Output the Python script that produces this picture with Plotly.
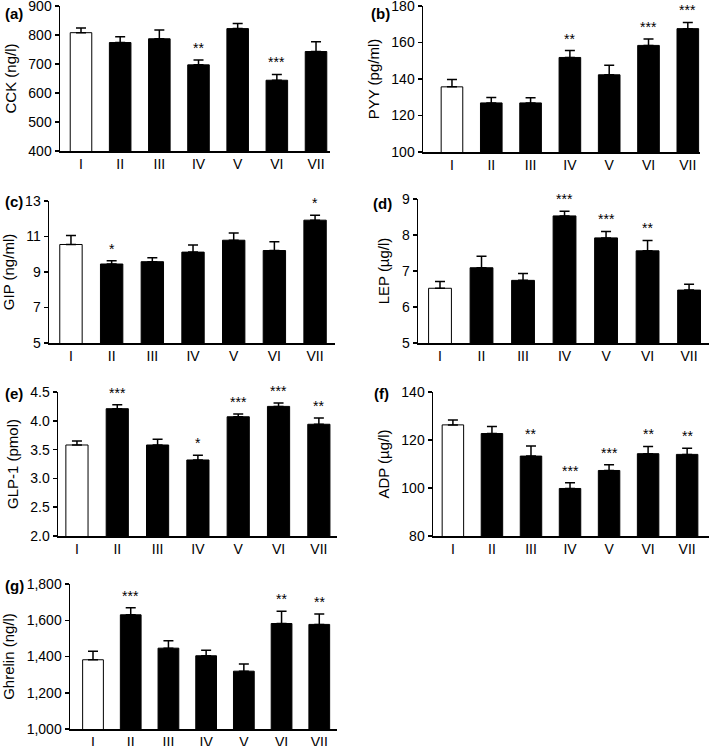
import plotly.graph_objects as go

groups = ["I", "II", "III", "IV", "V", "VI", "VII"]

cck = [808, 774, 787, 697, 822, 644, 743]
cck_err = [16, 20, 30, 17, 18, 20, 34]
cck_sig = ["", "", "", "**", "", "***", ""]

pyy = [135.7, 126.9, 126.9, 151.8, 142.3, 158.4, 167.6]
pyy_err = [4.0, 3.0, 2.8, 3.8, 5.3, 3.5, 3.4]
pyy_sig = ["", "", "", "**", "", "***", "***"]

gip = [10.55, 9.45, 9.58, 10.12, 10.79, 10.21, 11.92]
gip_err = [0.50, 0.19, 0.22, 0.40, 0.41, 0.49, 0.28]
gip_sig = ["", "*", "", "", "", "", "*"]

lep = [6.52, 7.09, 6.74, 8.53, 7.92, 7.56, 6.47]
lep_err = [0.19, 0.32, 0.19, 0.13, 0.18, 0.29, 0.16]
lep_sig = ["", "", "", "***", "***", "**", ""]

glp1 = [3.58, 4.21, 3.58, 3.32, 4.07, 4.25, 3.94]
glp1_err = [0.07, 0.07, 0.10, 0.08, 0.05, 0.06, 0.11]
glp1_sig = ["", "***", "", "*", "***", "***", "**"]

adp = [126.3, 122.7, 113.3, 99.8, 107.3, 114.3, 114.0]
adp_err = [2.0, 2.9, 4.2, 2.4, 2.4, 3.0, 2.6]
adp_sig = ["", "", "**", "***", "***", "**", "**"]

ghrelin = [1382, 1630, 1446, 1404, 1319, 1582, 1577]
ghrelin_err = [47, 39, 41, 31, 39, 67, 57]
ghrelin_sig = ["", "***", "", "", "", "**", "**"]

panels = [
    dict(tag="(a)", title="CCK (ng/l)", v=cck, e=cck_err, s=cck_sig,
         yr=[400, 900], dt=100, fmt="d",
         dx=[60, 330], dy=[6, 151], xr=[-0.536, 6.357], lab=(3, 13)),
    dict(tag="(b)", title="PYY (pg/ml)", v=pyy, e=pyy_err, s=pyy_sig,
         yr=[100, 180], dt=20, fmt="d",
         dx=[423, 700], dy=[6, 152], xr=[-0.737, 6.31], lab=(369, 13)),
    dict(tag="(c)", title="GIP (ng/ml)", v=gip, e=gip_err, s=gip_sig,
         yr=[5, 13], dt=2, fmt="d",
         dx=[49, 335], dy=[201, 343], xr=[-0.54, 6.49], lab=(3, 201)),
    dict(tag="(d)", title="LEP (µg/l)", v=lep, e=lep_err, s=lep_sig,
         yr=[5, 9], dt=1, fmt="d",
         dx=[418, 709], dy=[199, 343], xr=[-0.53, 6.48], lab=(371, 203)),
    dict(tag="(e)", title="GLP-1 (pmol)", v=glp1, e=glp1_err, s=glp1_sig,
         yr=[2.0, 4.5], dt=0.5, fmt=".1f",
         dx=[58, 337], dy=[392, 536], xr=[-0.47, 6.45], lab=(3, 393)),
    dict(tag="(f)", title="ADP (µg/l)", v=adp, e=adp_err, s=adp_sig,
         yr=[80, 140], dt=20, fmt="d",
         dx=[433, 709], dy=[392, 536], xr=[-0.51, 6.56], lab=(372, 393)),
    dict(tag="(g)", title="Ghrelin (ng/l)", v=ghrelin, e=ghrelin_err, s=ghrelin_sig,
         yr=[1000, 1800], dt=200, fmt=",d",
         dx=[70, 337], dy=[584, 729], xr=[-0.61, 6.47], lab=(3, 585)),
]

W, H = 709, 746
FONT = "Liberation Sans, Arial, sans-serif"

fig = go.Figure()
annotations = []
layout = {}

for i, p in enumerate(panels, start=1):
    xa = "x" if i == 1 else f"x{i}"
    ya = "y" if i == 1 else f"y{i}"
    colors = ["white"] + ["black"] * (len(groups) - 1)
    fig.add_trace(go.Bar(
        x=groups, y=p["v"], xaxis=xa, yaxis=ya,
        marker=dict(color=colors, line=dict(color="black", width=1)),
        width=0.55,
        error_y=dict(type="data", symmetric=False, array=p["e"],
                     arrayminus=[0] * len(groups),
                     color="black", thickness=1.5, width=5),
        showlegend=False, hoverinfo="skip",
    ))

    xkey = "xaxis" if i == 1 else f"xaxis{i}"
    ykey = "yaxis" if i == 1 else f"yaxis{i}"
    layout[xkey] = dict(
        domain=[p["dx"][0] / W, p["dx"][1] / W], anchor=ya,
        range=p["xr"], showline=True, linecolor="black", linewidth=1.5,
        ticks="", showgrid=False, zeroline=False, automargin=False,
        ticklabeloverflow="allow",
        tickfont=dict(family=FONT, size=14, color="black"),
        fixedrange=True,
    )
    n = round((p["yr"][1] - p["yr"][0]) / p["dt"])
    tv = [p["yr"][0] + k * p["dt"] for k in range(n + 1)]
    if p["fmt"] == ".1f":
        tt = [f"{t:.1f}" for t in tv]
    elif p["fmt"] == ",d":
        tt = [f"{int(t):,}" for t in tv]
    else:
        tt = [f"{int(t)}" for t in tv]
    layout[ykey] = dict(
        domain=[1 - p["dy"][1] / H, 1 - p["dy"][0] / H], anchor=xa,
        range=p["yr"],
        tickvals=tv, ticktext=tt,
        showline=True, linecolor="black", linewidth=1.5,
        ticks="outside", ticklen=4, tickwidth=1.5, tickcolor="black",
        showgrid=False, zeroline=False, automargin=False,
        ticklabeloverflow="allow",
        tickfont=dict(family=FONT, size=14, color="black"),
        title=dict(text=p["title"], font=dict(family=FONT, size=15, color="black"),
                   standoff=8),
        fixedrange=True,
    )
    for g, v, e, s in zip(groups, p["v"], p["e"], p["s"]):
        if s:
            annotations.append(dict(
                x=g, y=v + e, xref=xa, yref=ya,
                text=s, showarrow=False, yanchor="bottom", yshift=2,
                font=dict(family=FONT, size=14, color="black"),
            ))
    annotations.append(dict(
        x=p["lab"][0] / W, y=1 - p["lab"][1] / H, xref="paper", yref="paper",
        text=f"<b>{p['tag']}</b>", showarrow=False,
        xanchor="left", yanchor="middle",
        font=dict(family=FONT, size=15, color="black"),
    ))

fig.update_layout(
    width=W, height=H, margin=dict(l=0, r=0, t=0, b=0, autoexpand=False),
    paper_bgcolor="white", plot_bgcolor="white",
    annotations=annotations, bargap=0,
    **layout,
)

fig.write_html(
    "out.html",
    config={"displayModeBar": False, "staticPlot": True},
    post_script="document.body.style.margin='0';document.body.style.overflow='hidden';",
)
